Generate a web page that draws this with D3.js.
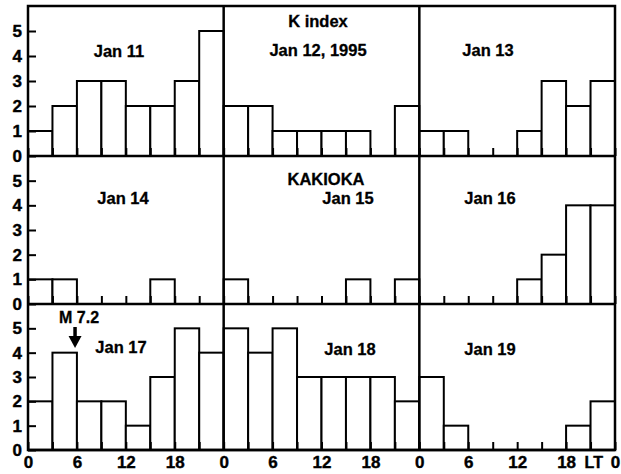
<body style="margin:0;background:#fff">
<script src="https://d3js.org/d3.v7.min.js"></script>
<script>
    // K index, Kakioka, 3-hour bins (0-3, 3-6, ... 21-24 LT)
    const jan11 = [1, 2, 3, 3, 2, 2, 3, 5];
    const jan12 = [2, 2, 1, 1, 1, 1, 0, 2];
    const jan13 = [1, 1, 0, 0, 1, 3, 2, 3];
    const jan14 = [1, 1, 0, 0, 0, 1, 0, 0];
    const jan15 = [1, 0, 0, 0, 0, 1, 0, 1];
    const jan16 = [0, 0, 0, 0, 1, 2, 4, 4];
    const jan17 = [2, 4, 2, 2, 1, 3, 5, 4];
    const jan18 = [5, 4, 5, 3, 3, 3, 3, 2];
    const jan19 = [3, 1, 0, 0, 0, 0, 1, 2];

    const dayNames = ["Jan 11", "Jan 12, 1995", "Jan 13", "Jan 14", "Jan 15", "Jan 16", "Jan 17", "Jan 18", "Jan 19"];
    const yTickValues = [0, 1, 2, 3, 4, 5];
    const hourLabels = [0, 6, 12, 18];
    const quakeHour = 5.77;
    const quakeLabel = "M 7.2";

    const days = [jan11, jan12, jan13, jan14, jan15, jan16, jan17, jan18, jan19];

    const width = 621;
    const height = 474;
    const left = 28, right = 615;
    const rowTops = [6, 156, 304];
    const rowBottoms = [156, 304, 450];
    const font = "'Liberation Sans', Arial, sans-serif";

    const svg = d3.select("body")
        .append("svg")
        .attr("width", width)
        .attr("height", height)
        .style("font-family", font)
        .style("font-weight", "bold");

    // one x scale across three days of a row
    const x = d3.scaleLinear().domain([0, 72]).range([left, right]);

    const yScales = rowTops.map((t, i) =>
        d3.scaleLinear().domain([0, 6]).range([rowBottoms[i], t]));

    // bars
    days.forEach((vals, d) => {
        const row = Math.floor(d / 3), col = d % 3;
        const y = yScales[row];
        svg.append("g").selectAll("rect")
            .data(vals.map((v, i) => ({ v: v, h: col * 24 + i * 3 })).filter(b => b.v > 0))
            .enter()
            .append("rect")
            .attr("x", b => x(b.h))
            .attr("y", b => y(b.v))
            .attr("width", b => x(b.h + 3) - x(b.h))
            .attr("height", b => y(0) - y(b.v))
            .attr("fill", "#fff")
            .attr("stroke", "#000")
            .attr("stroke-width", 2);
    });

    // axes per row
    yScales.forEach((y, row) => {
        svg.append("g")
            .attr("transform", "translate(0," + y(0) + ")")
            .call(d3.axisBottom(x).tickValues(d3.range(0, 73, 3)).tickSize(-8).tickFormat(""))
            .call(g => g.select(".domain").remove())
            .call(g => g.selectAll("line").attr("stroke-width", 2));

        svg.append("g")
            .attr("transform", "translate(" + left + ",0)")
            .call(d3.axisLeft(y).tickValues(yTickValues).tickSize(-8).tickPadding(6).tickFormat(d3.format("d")))
            .call(g => g.select(".domain").remove())
            .call(g => g.selectAll("line").attr("stroke-width", 2))
            .call(g => g.selectAll("text")
                .style("font-family", font).style("font-weight", "bold").attr("font-size", 17)
                .attr("stroke", "#000").attr("stroke-width", 0.4));

        svg.append("line")
            .attr("x1", left).attr("x2", right)
            .attr("y1", y(0)).attr("y2", y(0))
            .attr("stroke", "#000").attr("stroke-width", 2.5);
    });

    // frame and day dividers
    svg.append("rect")
        .attr("x", left).attr("y", rowTops[0])
        .attr("width", right - left).attr("height", rowBottoms[2] - rowTops[0])
        .attr("fill", "none").attr("stroke", "#000").attr("stroke-width", 2.5);
    [24, 48].forEach(h => {
        svg.append("line")
            .attr("x1", x(h)).attr("x2", x(h))
            .attr("y1", rowTops[0]).attr("y2", rowBottoms[2])
            .attr("stroke", "#000").attr("stroke-width", 2.5);
    });

    // bottom hour labels
    const bottomTicks = [0, 1, 2].flatMap(c => hourLabels.map(h => c * 24 + h)).concat([72]);
    svg.append("g")
        .attr("transform", "translate(0," + rowBottoms[2] + ")")
        .call(d3.axisBottom(x).tickValues(bottomTicks).tickSize(0).tickPadding(6)
            .tickFormat(h => String(h % 24)))
        .call(g => g.select(".domain").remove())
        .call(g => g.selectAll("text")
            .style("font-family", font).style("font-weight", "bold").attr("font-size", 17)
            .attr("stroke", "#000").attr("stroke-width", 0.4));
    svg.append("text")
        .attr("x", x(69.4)).attr("y", 468)
        .attr("text-anchor", "middle").attr("font-size", 16)
        .attr("stroke", "#000").attr("stroke-width", 0.4)
        .text("LT");

    // panel labels
    const labelPos = [[119, 57], [318, 56], [488, 56], [123, 204], [348, 204], [490, 204], [121, 353], [350, 355], [490, 355]];
    svg.selectAll(".day")
        .data(dayNames)
        .enter()
        .append("text")
        .attr("class", "day")
        .attr("x", (d, i) => labelPos[i][0])
        .attr("y", (d, i) => labelPos[i][1])
        .attr("text-anchor", "middle")
        .attr("font-size", 16.5)
        .attr("stroke", "#000").attr("stroke-width", 0.3)
        .text(d => d);

    svg.append("text").attr("x", 318).attr("y", 27)
        .attr("text-anchor", "middle").attr("font-size", 16.5)
        .attr("stroke", "#000").attr("stroke-width", 0.3).text("K index");
    svg.append("text").attr("x", 326).attr("y", 185)
        .attr("text-anchor", "middle").attr("font-size", 16.5)
        .attr("stroke", "#000").attr("stroke-width", 0.3).text("KAKIOKA");

    // earthquake marker
    const qx = x(quakeHour);
    svg.append("text").attr("x", qx + 4).attr("y", 323)
        .attr("text-anchor", "middle").attr("font-size", 16)
        .attr("stroke", "#000").attr("stroke-width", 0.3).text(quakeLabel);
    svg.append("line")
        .attr("x1", qx).attr("x2", qx).attr("y1", 327).attr("y2", 338)
        .attr("stroke", "#000").attr("stroke-width", 3.5);
    svg.append("path")
        .attr("d", "M" + (qx - 6.5) + ",336 L" + (qx + 6.5) + ",336 L" + qx + ",348 Z")
        .attr("fill", "#000");
</script>
</body>
